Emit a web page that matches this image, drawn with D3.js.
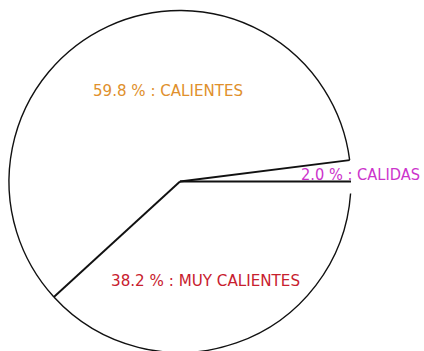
<!DOCTYPE html>
<html>
<head>
<meta charset="utf-8">
<script src="https://cdn.jsdelivr.net/npm/d3@7/dist/d3.min.js"></script>
<style>
  html, body { margin: 0; padding: 0; background: #fff; }
  svg { display: block; }
</style>
</head>
<body>
<svg id="chart" width="424" height="351"></svg>
<script>
// Temperature classes and their share of the total (%)
const categories = ["CALIENTES", "CALIDAS", "MUY CALIENTES"];
const shares = [59.8, 2.0, 38.2];
const labelColors = ["#e0902c", "#cc33cc", "#c8202e"];

const width = 424, height = 351;
const cx = 180, cy = 181.5, r = 171;

const svg = d3.select("#chart");
const g = svg.append("g").attr("transform", `translate(${cx},${cy})`);

// Slices laid out clockwise so that CALIDAS sits just above 3 o'clock
const startA = Math.PI / 2 - 2 * Math.PI * (shares[0] + shares[1]) / 100;
const pie = d3.pie().sort(null).value(d => d)
  .startAngle(startA).endAngle(startA + 2 * Math.PI);
const arcs = pie(shares);

// White slice fills
const fillArc = d3.arc().innerRadius(0).outerRadius(r);
g.selectAll("path.slice").data(arcs).join("path")
  .attr("class", "slice")
  .attr("d", fillArc)
  .attr("fill", "#fff")
  .attr("stroke", "none");

// Outer rim, left open where the CALIDAS label sits
const rim = d3.arc().innerRadius(r).outerRadius(r);
const rimGap = 0.07; // radians, opening below the small slice
const rimSegs = [
  { startAngle: arcs[2].startAngle + rimGap, endAngle: arcs[2].endAngle },
  { startAngle: arcs[0].startAngle, endAngle: arcs[0].endAngle }
];
g.selectAll("path.rim").data(rimSegs).join("path")
  .attr("class", "rim")
  .attr("d", rim)
  .attr("fill", "none")
  .attr("stroke", "#111")
  .attr("stroke-width", 1.4);

// Radial slice edges
const edges = arcs.map(a => a.startAngle);
g.selectAll("line.edge").data(edges).join("line")
  .attr("class", "edge")
  .attr("x1", 0).attr("y1", 0)
  .attr("x2", a => r * Math.sin(a))
  .attr("y2", a => -r * Math.cos(a))
  .attr("stroke", "#111")
  .attr("stroke-width", 1.9);

// Labels: "value % : name"
const labelPos = [
  { x: -87, y: -85.5, len: 150 },
  { x: 121, y: -2, len: 119 },
  { x: -69, y: 104, len: 189 }
];
g.selectAll("text.lbl").data(arcs).join("text")
  .attr("class", "lbl")
  .attr("x", (d, i) => labelPos[i].x)
  .attr("y", (d, i) => labelPos[i].y)
  .attr("textLength", (d, i) => labelPos[i].len)
  .attr("lengthAdjust", "spacingAndGlyphs")
  .attr("font-family", "'DejaVu Sans', sans-serif")
  .attr("font-size", 15)
  .attr("fill", (d, i) => labelColors[i])
  .text((d, i) => `${d3.format(".1f")(shares[i])} % : ${categories[i]}`);
</script>
</body>
</html>
